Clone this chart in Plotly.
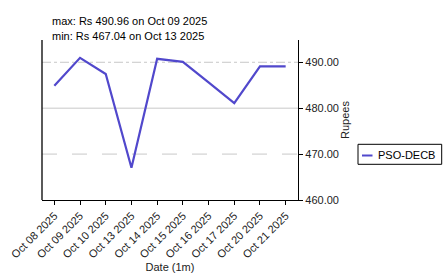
import plotly.graph_objects as go

dates = ["Oct 08 2025", "Oct 09 2025", "Oct 10 2025", "Oct 13 2025", "Oct 14 2025",
         "Oct 15 2025", "Oct 16 2025", "Oct 17 2025", "Oct 20 2025", "Oct 21 2025"]
prices = [484.9, 490.96, 487.45, 467.04, 490.75, 490.1, 485.6, 481.1, 489.1, 489.1]
series_name = "PSO-DECB"
y_ticks = [460, 470, 480, 490]
grid_styles = {470: "longdash", 480: "solid", 490: "dashdot"}

imax = max(range(len(prices)), key=lambda i: prices[i])
imin = min(range(len(prices)), key=lambda i: prices[i])

FONT = "Liberation Sans, Arial, sans-serif"
LINE_COLOR = "#5148cc"

# plot area in pixels: x 42..298, y 40..200
def px(x):
    return (x - 42) / 256.0

def py(y):
    return (200 - y) / 160.0

fig = go.Figure()
fig.add_trace(go.Scatter(x=dates, y=prices, mode="lines", name=series_name,
                         line=dict(color=LINE_COLOR, width=2.2), showlegend=False))

shapes = []
for v, d in grid_styles.items():
    shapes.append(dict(type="line", xref="paper", x0=0, x1=1, yref="y", y0=v, y1=v,
                       line=dict(color="#c8c8c8", width=1, dash=d), layer="below"))
shapes.append(dict(type="line", xref="paper", x0=0, x1=0, yref="paper", y0=0, y1=1,
                   line=dict(color="black", width=1.3)))
# legend box and sample line
shapes.append(dict(type="rect", xref="paper", yref="paper", x0=px(358), x1=px(441.7),
                   y0=py(164.3), y1=py(144.3), line=dict(color="black", width=1),
                   fillcolor="white"))
shapes.append(dict(type="line", xref="paper", yref="paper", x0=px(362), x1=px(372.5),
                   y0=py(155.5), y1=py(155.5), line=dict(color=LINE_COLOR, width=2)))

fig.update_layout(
    width=444, height=273,
    margin=dict(l=42, r=146, t=40, b=73, autoexpand=False),
    paper_bgcolor="white", plot_bgcolor="white",
    font=dict(family=FONT, size=11, color="#222"),
    shapes=shapes,
    showlegend=False,
    xaxis=dict(type="category", range=[-0.48, 9.48], showline=True, linecolor="black",
               linewidth=1.3, ticks="outside", ticklen=4, tickcolor="black",
               tickangle=-45, showgrid=False, zeroline=False, automargin=False,
               title=dict(text="Date (1m)", standoff=3, font=dict(size=11)),
               tickfont=dict(size=11)),
    yaxis=dict(side="right", range=[460, 494.85], tickvals=y_ticks,
               ticktext=[f"{v:.2f}" for v in y_ticks], showline=True,
               linecolor="black", linewidth=1.3, ticks="outside", ticklen=4,
               tickcolor="black", showgrid=False, zeroline=False, automargin=False,
               title=dict(text="Rupees", standoff=2, font=dict(size=11)),
               tickfont=dict(size=11)),
    annotations=[
        dict(xref="paper", yref="paper", x=0.031, y=py(20.5), xanchor="left", yanchor="middle",
             showarrow=False, text=f"max: Rs {prices[imax]:.2f} on {dates[imax]}",
             font=dict(size=11, color="black")),
        dict(xref="paper", yref="paper", x=0.031, y=py(36.5), xanchor="left", yanchor="middle",
             showarrow=False, text=f"min: Rs {prices[imin]:.2f} on {dates[imin]}",
             font=dict(size=11, color="black")),
        dict(xref="paper", yref="paper", x=px(375.5), y=py(155), xanchor="left", yanchor="middle",
             showarrow=False, text=series_name, font=dict(size=11, color="black")),
    ],
)

fig.write_html("out.html")
